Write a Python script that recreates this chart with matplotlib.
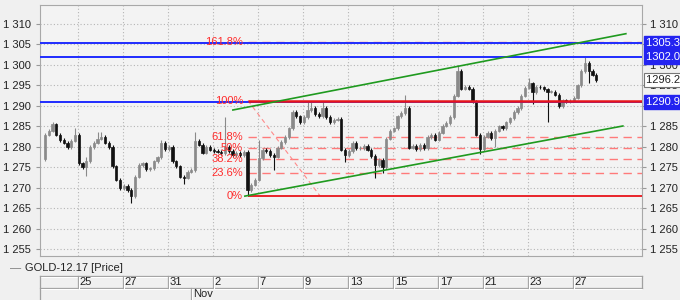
import matplotlib
matplotlib.use("Agg")
import matplotlib.pyplot as plt
from matplotlib.ticker import FuncFormatter, FixedLocator
import matplotlib.transforms as mtransforms
import numpy as np

plt.rcParams['font.family'] = ['Liberation Sans', 'DejaVu Sans']

# ---------------- data ----------------
first_open = 1277.0
closes = [
    1283.0, 1284.0, 1285.5, 1283.0, 1281.7, 1281.0, 1280.0, 1281.5, 1283.0, 1276.0,
    1275.0, 1276.5, 1280.0, 1281.0, 1282.0, 1282.4, 1281.0, 1280.0, 1275.3, 1272.0,
    1270.0, 1270.5, 1269.5, 1268.0, 1272.7, 1275.6, 1276.0, 1274.5, 1274.8, 1276.5,
    1277.5, 1281.0, 1279.5, 1280.0, 1276.5, 1275.3, 1272.7, 1272.5, 1274.0, 1274.4,
    1281.5, 1280.5, 1278.6, 1280.0, 1279.3, 1279.0, 1278.8, 1278.5, 1280.0, 1279.0,
    1278.0, 1278.5, 1278.0, 1278.8, 1269.5, 1270.8, 1272.0, 1277.3, 1279.3, 1279.0,
    1278.0, 1277.6, 1279.8, 1281.2, 1282.4, 1284.5, 1288.5, 1287.5, 1286.0, 1287.3,
    1289.0, 1289.5, 1288.0, 1287.5, 1289.5, 1287.3, 1286.0, 1286.6, 1286.8, 1279.3,
    1278.0, 1279.0, 1281.0, 1279.7, 1279.7, 1280.2, 1279.3, 1277.8, 1275.5, 1276.8,
    1275.0, 1282.0, 1284.0, 1284.5, 1287.5, 1288.3, 1289.5, 1279.8, 1280.3, 1279.4,
    1280.5, 1279.7, 1282.4, 1283.0, 1281.8, 1283.5, 1285.2, 1285.8, 1287.3, 1292.5,
    1298.5, 1294.2, 1294.6, 1294.2, 1291.0, 1283.0, 1279.5, 1282.5, 1283.4, 1282.2,
    1284.0, 1285.0, 1284.5, 1286.0, 1287.0, 1288.5, 1289.5, 1292.5, 1294.4, 1295.5,
    1293.4, 1294.6, 1294.5, 1294.0, 1293.5, 1293.5, 1292.7, 1290.0, 1291.4, 1291.0,
    1291.3, 1292.0, 1295.0, 1298.5, 1300.5, 1298.5, 1297.6, 1296.2,
]
high_spikes = {2: 1286.0, 8: 1284.6, 11: 1277.5, 14: 1283.6, 15: 1283.6, 31: 1281.7,
               40: 1283.6, 48: 1287.3, 57: 1281.7, 70: 1291.0, 71: 1291.0, 74: 1291.0,
               96: 1292.7, 110: 1300.0, 129: 1296.8, 144: 1302.0}
low_spikes = {11: 1273.0, 23: 1266.3, 37: 1271.0, 54: 1268.0, 61: 1274.4, 80: 1276.3,
              88: 1272.4, 90: 1273.6, 116: 1278.3, 120: 1280.0, 130: 1290.5, 134: 1286.0,
              145: 1295.5}

day_labels = ["25", "27", "31", "2", "7", "9", "13", "15", "17", "21", "23", "27"]
day_bars = [8.8, 20.8, 32.8, 44.8, 56.8, 68.8, 80.8, 92.8, 104.8, 116.8, 128.8, 140.8]
month_label = "Nov"
month_start_bar = 38.9

hlines_blue = [1305.3, 1302.0, 1290.9]
last_price = 1296.2
fib_start_bar = 54.1
fib_low = 1268.1
fib_high = 1291.3
fib_levels = [0.0, 0.236, 0.382, 0.5, 0.618, 1.0, 1.618]
fib_names = ["0%", "23.6%", "38.2%", "50%", "61.8%", "100%", "161.8%"]
fib_diag_end_bar = 73.3

chan_upper = [(50.1, 1289.0), (154.9, 1307.6)]
chan_lower = [(53.3, 1268.0), (154.1, 1285.1)]

legend_text = "GOLD-12.17 [Price]"

# ---------------- figure ----------------
BG = '#f0f0f0'
fig = plt.figure(figsize=(6.8, 3.0), dpi=100, facecolor=BG)
W, H = 680.0, 300.0
ax = fig.add_axes([39.5 / W, 44 / H, (642 - 39.5) / W, (295 - 44) / H])
ax.set_facecolor('#f3f3f3')
ax.set_xlim(-1.47, 159.2)
ax.set_ylim(1253.4, 1314.6)

# grid
ax.set_yticks(np.arange(1255, 1311, 5))
ax.yaxis.set_major_formatter(FuncFormatter(lambda v, p: f"{v:,.0f}".replace(",", " ")))
ax.xaxis.set_major_locator(FixedLocator(day_bars))
ax.set_xticklabels([])
ax.tick_params(axis='x', length=0)
ax.tick_params(axis='y', which='both', labelsize=8, colors='#222222', length=3,
               left=True, right=True, labelleft=True, labelright=True, pad=3)
ax.tick_params(axis='y', color='#999999')
ax.grid(True, color='#b5b5b5', linestyle=(0, (1, 2)), linewidth=0.8)
for s in ax.spines.values():
    s.set_color('#a8a8a8')
    s.set_linewidth(0.8)

# candles
opens = [first_open] + closes[:-1]
for i, (o, c) in enumerate(zip(opens, closes)):
    up = c >= o
    col = '#8a8a8a' if up else '#111111'
    hi = max(high_spikes.get(i, max(o, c) + 0.4), max(o, c))
    lo = min(low_spikes.get(i, min(o, c) - 0.4), min(o, c))
    ax.vlines(i, lo, hi, color=col, linewidth=0.8, zorder=3)
    bh = max(abs(c - o), 0.15)
    ax.bar(i, bh, bottom=min(o, c), width=0.55, color=col, edgecolor=col,
           linewidth=0.5, zorder=3)

# blue horizontal lines
for lv in hlines_blue:
    ax.axhline(lv, color='#1f2bff', linewidth=1.4, zorder=4)

# fibonacci
rng = fib_high - fib_low
xmax = ax.get_xlim()[1]
for lv, name in zip(fib_levels, fib_names):
    y = fib_low + lv * rng
    if lv in (0.0, 1.0):
        ax.plot([fib_start_bar, xmax], [y, y], color='#e8141a',
                linewidth=1.8 if lv == 1.0 else 1.3, zorder=5, solid_capstyle='butt')
    else:
        ax.plot([fib_start_bar, xmax], [y, y], color='#ff7a7a', linewidth=1.0,
                linestyle=(0, (6, 4)), zorder=2)
    ax.text(fib_start_bar - 1.3, y, name, color='#ff2a2a', fontsize=8,
            ha='right', va='center', zorder=6)
ax.plot([fib_start_bar, fib_diag_end_bar], [fib_high, fib_low], color='#ff8a8a',
        linewidth=0.8, linestyle=(0, (4, 3)), zorder=2)

# channel
for seg in (chan_upper, chan_lower):
    ax.plot([seg[0][0], seg[1][0]], [seg[0][1], seg[1][1]], color='#1f9a1f',
            linewidth=1.2, zorder=5)

# right-side price boxes
trans = mtransforms.blended_transform_factory(ax.transAxes, ax.transData)
for lv in hlines_blue:
    ax.text(1.0065, lv, f"{lv:.1f}    ", transform=trans, ha='left', va='center',
            fontsize=8, color='white', clip_on=False, zorder=20,
            bbox=dict(boxstyle='square,pad=0.18', fc='#2323f0', ec='#2323f0'))
ax.text(1.0065, last_price, f"{last_price:.1f}    ", transform=trans, ha='left',
        va='center', fontsize=8, color='#222222', clip_on=False, zorder=20,
        bbox=dict(boxstyle='square,pad=0.18', fc='white', ec='#777777', lw=0.8))

# legend
fig.text(10 / W, 1 - 268 / H, "—", fontsize=8, color='#777777', va='center', ha='left')
fig.text(25 / W, 1 - 268 / H, legend_text, fontsize=8, color='#222222',
         va='center', ha='left')

# date strip (top at y=276 px, row separator at y=288 px)
sx = fig.add_axes([39.5 / W, 0, (642 - 39.5) / W, 24 / H], sharex=ax)
sx.set_facecolor(BG)
sx.set_ylim(0, 1)
sx.axis('off')
sx.set_xlim(ax.get_xlim())
lc = '#a0a0a0'
hl = '#ffffff'
x0, x1 = ax.get_xlim()
sx.plot([x0, x1], [0.99, 0.99], color=lc, lw=0.9, clip_on=False)
sx.plot([x0, x1], [0.95, 0.95], color=hl, lw=0.8, clip_on=False)
sx.plot([x0, x1], [0.5, 0.5], color=lc, lw=0.9, clip_on=False)
sx.plot([x0, x1], [0.46, 0.46], color=hl, lw=0.8, clip_on=False)
sx.plot([x0, x0], [0, 1], color=lc, lw=0.9, clip_on=False)
sx.plot([x1, x1], [0.5, 1], color=lc, lw=0.9, clip_on=False)
for b, lab in zip(day_bars, day_labels):
    sx.plot([b, b], [0.5, 1], color=lc, lw=0.9, clip_on=False)
    sx.plot([b + 0.3, b + 0.3], [0.5, 0.95], color=hl, lw=0.8, clip_on=False)
    sx.text(b + 0.5, 0.74, lab, fontsize=8, color='#222222', ha='left', va='center')
sx.plot([month_start_bar, month_start_bar], [0, 0.5], color=lc, lw=0.9)
sx.plot([month_start_bar + 0.3, month_start_bar + 0.3], [0, 0.46], color=hl, lw=0.8)
sx.text(month_start_bar + 0.5, 0.25, month_label, fontsize=8, color='#222222',
        ha='left', va='center')

fig.savefig("out.png", dpi=100, facecolor=BG)
